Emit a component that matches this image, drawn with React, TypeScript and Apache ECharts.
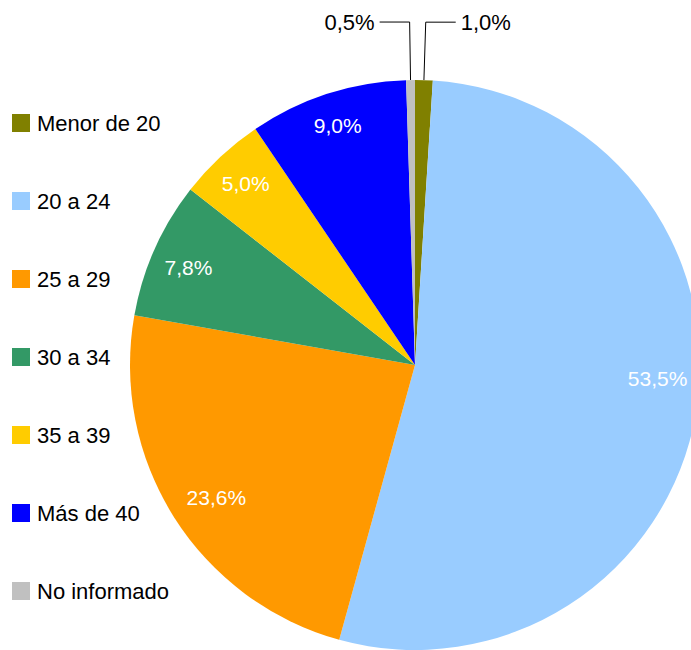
import React, { useEffect, useRef } from "react";
import * as echarts from "echarts";

const categories = ["Menor de 20", "20 a 24", "25 a 29", "30 a 34", "35 a 39", "Más de 40", "No informado"];
const values = [1.0, 53.5, 23.6, 7.8, 5.0, 9.0, 0.5];
const colors = ["#808000", "#99CCFF", "#FF9900", "#339966", "#FFCC00", "#0000FF", "#C0C0C0"];
const outsideLabelIdx = [0, 6];
const labelOffsets: Record<number, number[]> = { 1: [-2, -27], 2: [11, 0], 3: [0, 3], 5: [-1, -4] };

const fmt = (v: number) => v.toFixed(1).replace(".", ",") + "%";
const FONT = "Liberation Sans";

export default function App() {
  const ref = useRef<HTMLDivElement>(null);
  useEffect(() => {
    document.body.style.margin = "0";
    const chart = echarts.init(ref.current!, null, { renderer: "svg" });
    const mainData = categories.map((name, i) => ({
      name,
      value: values[i],
      itemStyle: { color: colors[i] },
      label: outsideLabelIdx.includes(i)
        ? { show: true, position: "outside", formatter: () => fmt(values[i]) }
        : { show: false },
      labelLine: { show: outsideLabelIdx.includes(i) },
    }));
    const overlayData = categories.map((name, i) => ({
      name,
      value: values[i],
      label: {
        show: !outsideLabelIdx.includes(i),
        formatter: () => fmt(values[i]),
        offset: labelOffsets[i] || [0, 0],
      },
    }));
    chart.setOption({
      animation: false,
      backgroundColor: "#ffffff",
      legend: {
        orient: "vertical",
        left: 7,
        top: 107,
        itemWidth: 18,
        itemHeight: 18,
        itemGap: 56,
        icon: "rect",
        data: categories,
        selectedMode: false,
        textStyle: { fontFamily: FONT, fontSize: 22, color: "#000", padding: [0, 0, 0, 2] },
      },
      series: [
        {
          type: "pie",
          center: [415, 365],
          radius: [0, 285],
          startAngle: 90,
          clockwise: true,
          avoidLabelOverlap: false,
          silent: true,
          itemStyle: { borderWidth: 0 },
          label: {
            fontFamily: FONT,
            fontSize: 22,
            color: "#000",
            distanceToLabelLine: 5,
          },
          labelLine: { length: 58, length2: 30, smooth: false, lineStyle: { color: "#000", width: 1 } },
          data: mainData,
        },
        {
          type: "pie",
          center: [415, 365],
          radius: [205, 285],
          startAngle: 90,
          clockwise: true,
          avoidLabelOverlap: false,
          silent: true,
          itemStyle: { color: "rgba(0,0,0,0)", borderWidth: 0 },
          label: { position: "inside", fontFamily: FONT, fontSize: 21, color: "#ffffff" },
          labelLine: { show: false },
          data: overlayData,
        },
      ],
    });
    return () => chart.dispose();
  }, []);
  return <div ref={ref} style={{ width: 691, height: 650 }} />;
}
